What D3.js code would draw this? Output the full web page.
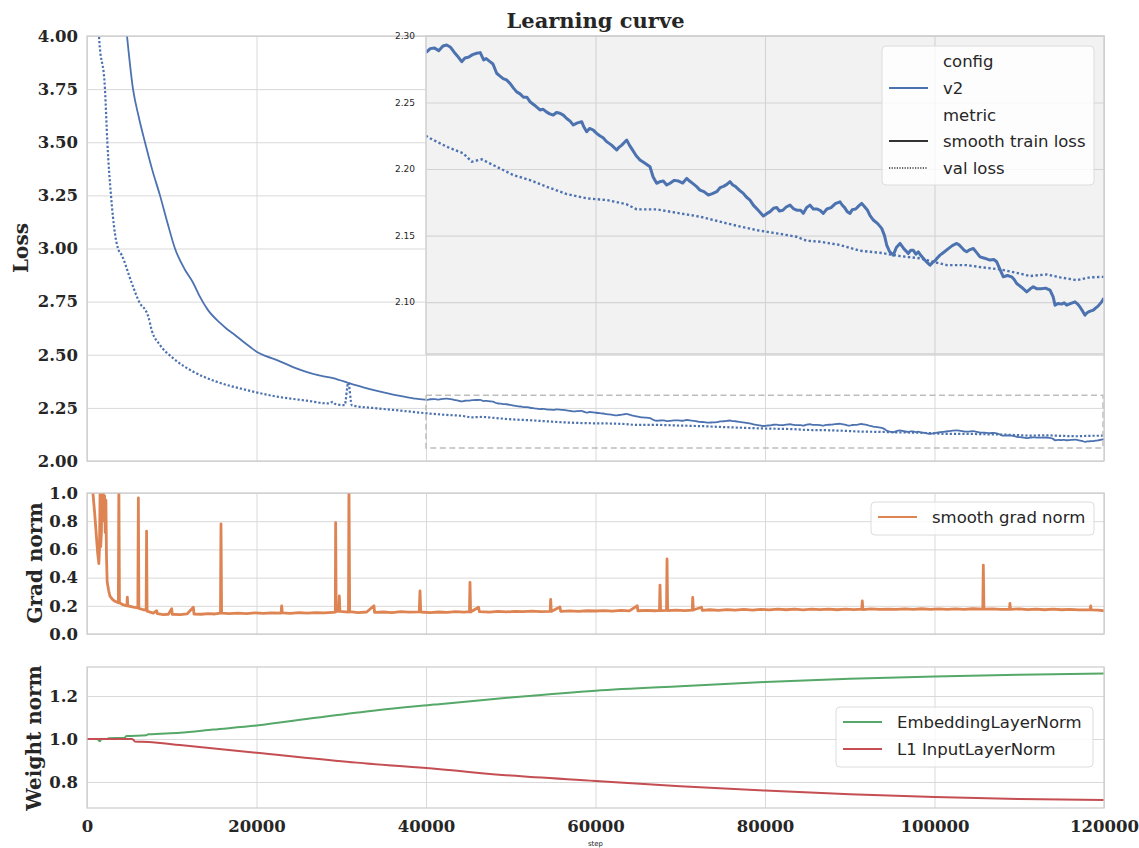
<!DOCTYPE html>
<html>
<head>
<meta charset="utf-8">
<script src="https://cdn.jsdelivr.net/npm/d3@7"></script>
<style>
  body { margin: 0; background: #fff; }
  svg { display: block; }
</style>
</head>
<body>
<div id="chart"></div>
<script>
// values
const trainSteps = [0, 1000, 2000, 3000, 4000, 4720, 5430, 6100, 6840, 7700, 8610, 9500, 10380, 11560, 12500, 13300, 14280, 15700, 16400, 17230, 18640, 19300, 20060,
  21200, 22420, 24310, 25700, 27140, 29030, 30800, 31030, 32500, 34220, 35500, 36930, 38500,
  40080, 40500, 41000, 41500, 42000, 42440, 42900, 43300, 43700, 44210, 44600, 45000, 45500, 45980, 46400, 46800, 47100, 47550, 47900, 48340, 48700, 49100, 49500, 49910,
  50300, 50700, 51100, 51500, 51900, 52270, 52800, 53450, 53800, 54200, 54600, 55020, 55400, 55800, 56200, 56600, 57000, 57380, 57800, 58370, 58600, 58960, 59300, 59740,
  60100, 60500, 60900, 61320, 61900, 62500, 62800, 63100, 63400, 63680, 64000, 64400, 64800, 65250, 65800, 66430, 66800, 67220, 67600, 68000, 68400, 68790, 69300, 69800,
  70300, 70760, 71100, 71500, 71900, 72330, 72800, 73310, 73800, 74300, 74700, 75100, 75500, 75870, 76200, 76500, 77000, 77440, 77800, 78230, 78620, 79200, 79800,
  80200, 80600, 81000, 81380, 81700, 82100, 82500, 82950, 83400, 83800, 84200, 84520, 84900, 85310, 85700, 86100, 86500, 86880, 87300, 87800, 88300, 88850, 89100, 89400, 89700,
  90030, 90300, 90700, 91100, 91410, 91700, 92100, 92400, 92780, 93300, 93770, 94100, 94360, 94700, 95140, 95500, 95930, 96400, 96910, 97200, 97500, 97800, 98090, 98400,
  98800, 99100, 99470, 99800, 100050, 100300, 100650, 101100, 101600, 102100, 102620, 102900, 103200, 103500, 103800, 104200, 104580, 105000, 105370, 105900, 106550,
  107000, 107340, 107700, 108120, 108600, 109110, 109400, 109700, 110300, 110880, 111300, 111660, 112100, 112600, 113100, 113630, 114000, 114220, 114600, 115000,
  115300, 115600, 116100, 116580, 116900, 117200, 117500, 117760, 118000, 118300, 118740, 119000, 119300, 119720, 120000];
const trainLoss = [10.5, 8.0, 6.2, 5.0, 4.3, 4.00, 3.75, 3.62, 3.50, 3.37, 3.25, 3.12, 3.00, 2.90, 2.84, 2.775, 2.71, 2.65, 2.625, 2.60, 2.555, 2.535, 2.513,
  2.492, 2.475, 2.442, 2.422, 2.405, 2.39, 2.368, 2.365, 2.348, 2.33, 2.318, 2.306, 2.295,
  2.288, 2.2905, 2.291, 2.2890, 2.2925, 2.2932, 2.2915, 2.288, 2.2850, 2.2807, 2.2835, 2.284, 2.2860, 2.287, 2.2875, 2.282, 2.2830, 2.2807, 2.2790, 2.272, 2.2700, 2.268, 2.2670, 2.2644,
  2.2610, 2.258, 2.2565, 2.254, 2.2540, 2.2506, 2.2480, 2.2444, 2.2450, 2.243, 2.2415, 2.2406, 2.2425, 2.242, 2.2405, 2.238, 2.2360, 2.2331, 2.2345, 2.2356, 2.2320, 2.228, 2.2305, 2.2293,
  2.2270, 2.225, 2.2235, 2.2206, 2.2180, 2.2143, 2.2165, 2.218, 2.2200, 2.2218, 2.2180, 2.214, 2.2100, 2.2068, 2.2045, 2.2017, 2.1940, 2.1893, 2.1905, 2.191, 2.1880, 2.1893, 2.1915, 2.191,
  2.1895, 2.193, 2.1910, 2.189, 2.1870, 2.1842, 2.1830, 2.1805, 2.1815, 2.183, 2.1860, 2.187, 2.1885, 2.1905, 2.1880, 2.187, 2.1840, 2.1817, 2.1790, 2.1767, 2.1729, 2.1690, 2.1648,
  2.1665, 2.168, 2.1705, 2.1711, 2.1685, 2.169, 2.1715, 2.1729, 2.1700, 2.169, 2.1690, 2.1667, 2.1710, 2.1729, 2.1700, 2.170, 2.1690, 2.1667, 2.1700, 2.171, 2.1740, 2.1754, 2.1730, 2.171, 2.1680,
  2.1667, 2.1695, 2.170, 2.1725, 2.1742, 2.1720, 2.169, 2.1650, 2.1617, 2.1590, 2.1554, 2.1500, 2.1429, 2.1380, 2.1353, 2.1410, 2.1441, 2.140, 2.1366, 2.1390, 2.139, 2.1360, 2.1378, 2.1350,
  2.132, 2.1300, 2.1278, 2.1300, 2.131, 2.1330, 2.1353, 2.1375, 2.140, 2.1425, 2.1441, 2.1430, 2.141, 2.1390, 2.1378, 2.1395, 2.1403, 2.1370, 2.134, 2.1330, 2.1316,
  2.1320, 2.1303, 2.1250, 2.119, 2.1200, 2.119, 2.1170, 2.114, 2.1110, 2.1077, 2.1100, 2.1115, 2.1100, 2.110, 2.1105, 2.109, 2.104, 2.0977, 2.0990, 2.0985,
  2.0995, 2.0977, 2.0990, 2.1002, 2.0985, 2.096, 2.0930, 2.0902, 2.0920, 2.093, 2.094, 2.0955, 2.097, 2.1002, 2.103];

const valSteps = [0, 500, 1000, 1420, 2120, 2400, 2830, 3300, 3660, 4090, 5270, 6250, 6900, 7240, 7630, 8610, 10190, 12550, 15300, 18840, 21990, 25920, 28500, 29000, 29300,
  30400, 30830, 31250, 34180, 37000, 40270, 42440, 44400, 45390, 46570, 48340, 50300, 52270, 54240, 56600, 58960, 61320, 63680, 64860, 67220, 69970, 72330, 73900, 76260,
  79010, 81380, 83740, 84920, 86490, 88850, 91210, 93570, 95930, 98290, 99860, 101440, 103800, 105770, 107730, 109700, 111270, 113240, 114810, 116780, 118350, 120000];
const valLoss = [7.0, 5.5, 4.5, 4.00, 3.75, 3.50, 3.25, 3.07, 3.00, 2.969, 2.838, 2.742, 2.71, 2.679, 2.616, 2.546, 2.483, 2.42, 2.373, 2.334, 2.306, 2.284, 2.271, 2.278, 2.268,
  2.263, 2.368, 2.262, 2.248, 2.237, 2.2238, 2.2168, 2.2118, 2.2055, 2.2073, 2.2017, 2.1955, 2.1917, 2.1867, 2.1812, 2.178, 2.1767, 2.1735, 2.1697, 2.1697, 2.1667, 2.1642, 2.1617, 2.158,
  2.1541, 2.1517, 2.1491, 2.1461, 2.1454, 2.1429, 2.1386, 2.1371, 2.1346, 2.1329, 2.1303, 2.1278, 2.1278, 2.126, 2.1246, 2.122, 2.1196, 2.1208, 2.1186, 2.1165, 2.1186, 2.119];

const gradSteps = [400, 700, 900, 1100, 1250, 1400, 1480, 1550, 1620, 1700, 1760, 1840, 1920, 2000, 2080, 2150, 2230, 2300, 2380, 2550, 2710, 3000, 3300, 3700, 3760, 3830,
  4290, 4700, 4760, 4820, 5470, 6000, 6060, 6120, 6650, 6980, 7030, 7090, 7820, 8220, 8300, 9000, 9600, 9990, 10060, 11000, 11800, 12550, 12620, 13500, 14300, 15100,
  15750, 15810, 15880, 16800, 17800, 18800, 19800, 20800, 21800, 22900, 22970, 23050, 24000, 25000, 26000, 27000, 28000, 29000, 29300, 29340, 29400, 29700, 29770, 29840,
  30850, 30910, 30990, 32000, 33000, 33860, 33930, 35000, 36000, 37000, 38000, 39200, 39290, 39380, 40500, 41500, 42500, 43500, 44500, 45130, 45190, 45260, 46200, 46300,
  47500, 48500, 49500, 50500, 51500, 52500, 53500, 54650, 54710, 54780, 55800, 55900, 57000, 58000, 59000, 60000, 61000, 62000, 63000, 64000, 64930, 65000, 66000, 67000,
  67550, 67610, 67680, 68380, 68440, 68510, 69500, 70500, 71420, 71470, 71540, 72500, 72600, 73500, 74500, 75500, 76500, 77500, 78500, 79500, 80500, 81500, 82500, 83500,
  84500, 85500, 86500, 87500, 88500, 89500, 90500, 91420, 91480, 91550, 92500, 93500, 94500, 95500, 96500, 97500, 98500, 99500, 100500, 101500, 102500, 103500, 104500,
  105700, 105760, 105830, 106800, 107800, 108850, 108900, 108960, 110000, 111000, 112000, 113000, 114000, 115000, 116000, 117000, 118380, 118430, 118490, 119300, 120000];
const gradNorm = [1.25, 1.0, 0.86, 0.7, 0.58, 0.5, 0.62, 1.05, 0.62, 0.72, 1.08, 0.8, 1.02, 0.85, 0.98, 0.72, 0.95, 0.55, 0.37, 0.31, 0.268, 0.245, 0.232, 0.222, 1.05, 0.222,
  0.206, 0.2, 0.262, 0.2, 0.19, 0.185, 0.965, 0.182, 0.172, 0.17, 0.73, 0.162, 0.148, 0.165, 0.145, 0.138, 0.14, 0.18, 0.14, 0.137, 0.142, 0.19, 0.142, 0.14, 0.145, 0.142,
  0.148, 0.78, 0.148, 0.145, 0.148, 0.144, 0.15, 0.146, 0.15, 0.148, 0.2, 0.15, 0.146, 0.152, 0.148, 0.152, 0.15, 0.154, 0.155, 0.79, 0.16, 0.16, 0.27, 0.16,
  0.155, 1.05, 0.158, 0.152, 0.156, 0.2, 0.154, 0.156, 0.152, 0.158, 0.155, 0.157, 0.305, 0.156, 0.152, 0.156, 0.154, 0.158, 0.155, 0.158, 0.366, 0.156, 0.19, 0.158,
  0.155, 0.16, 0.157, 0.16, 0.158, 0.162, 0.159, 0.16, 0.246, 0.16, 0.192, 0.16, 0.164, 0.161, 0.165, 0.163, 0.166, 0.162, 0.167, 0.164, 0.2, 0.165, 0.168, 0.165,
  0.168, 0.347, 0.166, 0.168, 0.532, 0.166, 0.17, 0.166, 0.17, 0.26, 0.17, 0.19, 0.167, 0.172, 0.168, 0.173, 0.17, 0.174, 0.17, 0.175, 0.171, 0.176, 0.172, 0.176,
  0.171, 0.176, 0.173, 0.177, 0.172, 0.176, 0.173, 0.176, 0.234, 0.173, 0.178, 0.174, 0.177, 0.174, 0.178, 0.175, 0.179, 0.175, 0.178, 0.174, 0.178, 0.175, 0.179,
  0.176, 0.489, 0.176, 0.178, 0.174, 0.177, 0.217, 0.175, 0.178, 0.173, 0.177, 0.172, 0.176, 0.172, 0.175, 0.171, 0.172, 0.2, 0.171, 0.17, 0.165];

const embSteps = [0, 1200, 1530, 1700, 2400, 2520, 4400, 4680, 7000, 7240, 10960, 14900, 20000, 27000, 34000, 41000, 50000, 60000, 70000, 80000, 90000, 100000, 110000, 120000];
const embNorm = [1.0, 1.0, 0.989, 1.0, 1.0, 1.004, 1.005, 1.014, 1.017, 1.022, 1.029, 1.044, 1.063, 1.099, 1.133, 1.160, 1.193, 1.225, 1.246, 1.265, 1.280, 1.291, 1.299, 1.305];
const l1Steps = [0, 5270, 5500, 5660, 7240, 10960, 20020, 30640, 41650, 50000, 60000, 70000, 80000, 90000, 100000, 110000, 120000];
const l1Norm = [1.0, 1.0, 0.995, 0.988, 0.986, 0.972, 0.936, 0.894, 0.859, 0.83, 0.805, 0.78, 0.76, 0.743, 0.73, 0.721, 0.716];

const xTicks = [0, 20000, 40000, 60000, 80000, 100000, 120000];
const lossTicks = [2.00, 2.25, 2.50, 2.75, 3.00, 3.25, 3.50, 3.75, 4.00];
const insetTicks = [2.10, 2.15, 2.20, 2.25, 2.30];
const gradTicks = [0.0, 0.2, 0.4, 0.6, 0.8, 1.0];
const weightTicks = [0.8, 1.0, 1.2];

const C = { blue: '#4c72b0', orange: '#dd8452', green: '#55a868', red: '#c44e52', text: '#262626', grid: '#d9d9d9', spine: '#cccccc' };
const SERIF = "'DejaVu Serif', serif";
const SANS = "'DejaVu Sans', sans-serif";

const W = 1139, H = 848;
const L = 87, R = 1104;
const P = {
  loss: { top: 36, bottom: 461 },
  grad: { top: 493, bottom: 634 },
  weight: { top: 667, bottom: 808 },
};

const svg = d3.select('#chart').append('svg').attr('width', W).attr('height', H);
const defs = svg.append('defs');

const x = d3.scaleLinear().domain([0, 120000]).range([L, R]);
const yLoss = d3.scaleLinear().domain([2, 4]).range([P.loss.bottom, P.loss.top]);
const yGrad = d3.scaleLinear().domain([0, 1]).range([P.grad.bottom, P.grad.top]);
const yW = d3.scaleLinear().domain([0.679, 1.335]).range([P.weight.bottom, P.weight.top]);

const xIn = d3.scaleLinear().domain([40000, 120000]).range([426, R]);
const yIn = d3.scaleLinear().domain([2.061, 2.30]).range([354, 36]);

function clip(id, x0, y0, x1, y1) {
  defs.append('clipPath').attr('id', id).append('rect')
    .attr('x', x0).attr('y', y0).attr('width', x1 - x0).attr('height', y1 - y0);
  return `url(#${id})`;
}

function styleTicks(g, size, family, weight) {
  g.select('.domain').remove();
  g.selectAll('.tick line').remove();
  g.selectAll('text').attr('font-size', size).attr('font-family', family)
    .attr('font-weight', weight).attr('fill', C.text);
}

// panel frame: gridlines, tick labels
function panel(p, y, yTicks, fmt, showX) {
  const g = svg.append('g');
  g.append('g').attr('transform', `translate(${L},0)`)
    .call(d3.axisLeft(y).tickValues(yTicks).tickSize(-(R - L)).tickFormat(''))
    .call(a => { a.select('.domain').remove(); a.selectAll('line').attr('stroke', C.grid).attr('stroke-width', 1); });
  g.append('g').attr('transform', `translate(0,${p.bottom})`)
    .call(d3.axisBottom(x).tickValues(xTicks).tickSize(-(p.bottom - p.top)).tickFormat(''))
    .call(a => { a.select('.domain').remove(); a.selectAll('line').attr('stroke', C.grid).attr('stroke-width', 1); });
  g.append('g').attr('transform', `translate(${L},0)`)
    .call(d3.axisLeft(y).tickValues(yTicks).tickSize(0).tickPadding(9).tickFormat(fmt))
    .call(a => styleTicks(a, 16.5, SERIF, 'bold'));
  if (showX) {
    g.append('g').attr('transform', `translate(0,${p.bottom})`)
      .call(d3.axisBottom(x).tickValues(xTicks).tickSize(0).tickPadding(12).tickFormat(d3.format('d')))
      .call(a => styleTicks(a, 16.5, SERIF, 'bold'));
  }
  return g;
}

function spines(p) {
  svg.append('rect').attr('x', L).attr('y', p.top).attr('width', R - L).attr('height', p.bottom - p.top)
    .attr('fill', 'none').attr('stroke', C.spine).attr('stroke-width', 1.25);
}

function ylabel(text, tx, ty) {
  svg.append('text').attr('transform', `translate(${tx},${ty}) rotate(-90)`)
    .attr('text-anchor', 'middle').attr('font-family', SERIF).attr('font-weight', 'bold')
    .attr('font-size', 20).attr('fill', C.text).text(text);
}

const lineOf = (xs, ys, sx, sy) => d3.line().x((d, i) => sx(xs[i])).y(d => sy(d))(ys);
const smoothOf = (xs, ys, sx, sy) => d3.line().curve(d3.curveMonotoneX).x((d, i) => sx(xs[i])).y(d => sy(d))(ys);

// ---------- loss panel ----------
panel(P.loss, yLoss, lossTicks, d3.format('.2f'), false);
const lossClip = clip('c-loss', L, P.loss.top, R, P.loss.bottom);
const gl = svg.append('g').attr('clip-path', lossClip);
gl.append('path').attr('d', smoothOf(valSteps, valLoss, x, yLoss))
  .attr('fill', 'none').attr('stroke', C.blue).attr('stroke-width', 2.2).attr('stroke-dasharray', '2.2,2');
gl.append('path').attr('d', smoothOf(trainSteps, trainLoss, x, yLoss))
  .attr('fill', 'none').attr('stroke', C.blue).attr('stroke-width', 1.8);

// zoom indicator box
svg.append('rect').attr('x', xIn.range()[0]).attr('y', yLoss(yIn.domain()[1]) - 2)
  .attr('width', x(120000) - x(40000) - 1).attr('height', yLoss(yIn.domain()[0]) - yLoss(yIn.domain()[1]) + 2)
  .attr('fill', 'none').attr('stroke', '#bdbdbd').attr('stroke-width', 1.5).attr('stroke-dasharray', '6,3.5');

spines(P.loss);

// ---------- inset ----------
const [ix0, ix1] = xIn.range();
const [iy1, iy0] = yIn.range();
const gi = svg.append('g');
gi.append('rect').attr('x', ix0).attr('y', iy0).attr('width', ix1 - ix0).attr('height', iy1 - iy0).attr('fill', '#f2f2f2');
gi.append('g').attr('transform', `translate(${ix0},0)`)
  .call(d3.axisLeft(yIn).tickValues(insetTicks).tickSize(-(ix1 - ix0)).tickFormat(''))
  .call(a => { a.select('.domain').remove(); a.selectAll('line').attr('stroke', '#d4d4d4').attr('stroke-width', 1.1); });
gi.append('g').attr('transform', `translate(0,${iy1})`)
  .call(d3.axisBottom(xIn).tickValues([60000, 80000, 100000]).tickSize(-(iy1 - iy0)).tickFormat(''))
  .call(a => { a.select('.domain').remove(); a.selectAll('line').attr('stroke', '#d4d4d4').attr('stroke-width', 1.1); });
gi.append('g').attr('transform', `translate(${ix0},0)`)
  .call(d3.axisLeft(yIn).tickValues(insetTicks).tickSize(0).tickPadding(11).tickFormat(d3.format('.2f')))
  .call(a => styleTicks(a, 9, SANS, 'normal'));
const inClip = clip('c-inset', ix0, iy0, ix1, iy1);
const gin = gi.append('g').attr('clip-path', inClip);
gin.append('path').attr('d', lineOf(valSteps, valLoss, xIn, yIn))
  .attr('fill', 'none').attr('stroke', C.blue).attr('stroke-width', 2.4).attr('stroke-dasharray', '2.4,2.4');
gin.append('path').attr('d', lineOf(trainSteps, trainLoss, xIn, yIn))
  .attr('fill', 'none').attr('stroke', C.blue).attr('stroke-width', 3).attr('stroke-linejoin', 'round');
gi.append('rect').attr('x', ix0).attr('y', iy0).attr('width', ix1 - ix0).attr('height', iy1 - iy0)
  .attr('fill', 'none').attr('stroke', '#d0d0d0').attr('stroke-width', 1.5);

// legend box with line handles
function legend(x0, y0, w, h, rows, textX) {
  const g = svg.append('g');
  g.append('rect').attr('x', x0).attr('y', y0).attr('width', w).attr('height', h).attr('rx', 4)
    .attr('fill', '#fff').attr('fill-opacity', 0.8).attr('stroke', '#dcdcdc').attr('stroke-width', 1);
  rows.forEach(r => {
    if (r.color) {
      g.append('line').attr('x1', x0 + 7).attr('x2', x0 + 46).attr('y1', r.y).attr('y2', r.y)
        .attr('stroke', r.color).attr('stroke-width', r.dash ? 1.6 : 2.2)
        .attr('stroke-dasharray', r.dash || null);
    }
    g.append('text').attr('x', textX).attr('y', r.y + 6).attr('font-family', SANS)
      .attr('font-size', 16.5).attr('fill', C.text).text(r.label);
  });
}

legend(882, 46, 212, 139, [
  { label: 'config', y: 61 },
  { label: 'v2', y: 88, color: C.blue },
  { label: 'metric', y: 115 },
  { label: 'smooth train loss', y: 141, color: '#333' },
  { label: 'val loss', y: 168, color: '#333', dash: '1.2,1.4' },
], 943);

// ---------- grad norm ----------
panel(P.grad, yGrad, gradTicks, d3.format('.1f'), false);
const gradClip = clip('c-grad', L, P.grad.top, R, P.grad.bottom);
svg.append('g').attr('clip-path', gradClip).append('path')
  .attr('d', lineOf(gradSteps, gradNorm, x, yGrad))
  .attr('fill', 'none').attr('stroke', C.orange).attr('stroke-width', 2.8).attr('stroke-linejoin', 'round');
spines(P.grad);
legend(871, 502, 223, 33, [{ label: 'smooth grad norm', y: 517, color: C.orange }], 932);

// ---------- weight norm ----------
panel(P.weight, yW, weightTicks, d3.format('.1f'), true);
const wClip = clip('c-weight', L, P.weight.top, R, P.weight.bottom);
const gw = svg.append('g').attr('clip-path', wClip);
gw.append('path').attr('d', smoothOf(embSteps, embNorm, x, yW))
  .attr('fill', 'none').attr('stroke', C.green).attr('stroke-width', 2);
gw.append('path').attr('d', smoothOf(l1Steps, l1Norm, x, yW))
  .attr('fill', 'none').attr('stroke', C.red).attr('stroke-width', 2);
spines(P.weight);
legend(836, 707, 257, 60, [
  { label: 'EmbeddingLayerNorm', y: 722, color: C.green },
  { label: 'L1 InputLayerNorm', y: 749, color: C.red },
], 897);

// ---------- labels ----------
ylabel('Loss', 28, 248);
ylabel('Grad norm', 42, 563);
ylabel('Weight norm', 41, 738);

svg.append('text').attr('x', (L + R) / 2).attr('y', 28).attr('text-anchor', 'middle')
  .attr('font-family', SERIF).attr('font-weight', 'bold').attr('font-size', 21).attr('fill', C.text)
  .text('Learning curve');
svg.append('text').attr('x', (L + R) / 2).attr('y', 846).attr('text-anchor', 'middle')
  .attr('font-family', SANS).attr('font-size', 7).attr('fill', C.text).text('step');
</script>
</body>
</html>
